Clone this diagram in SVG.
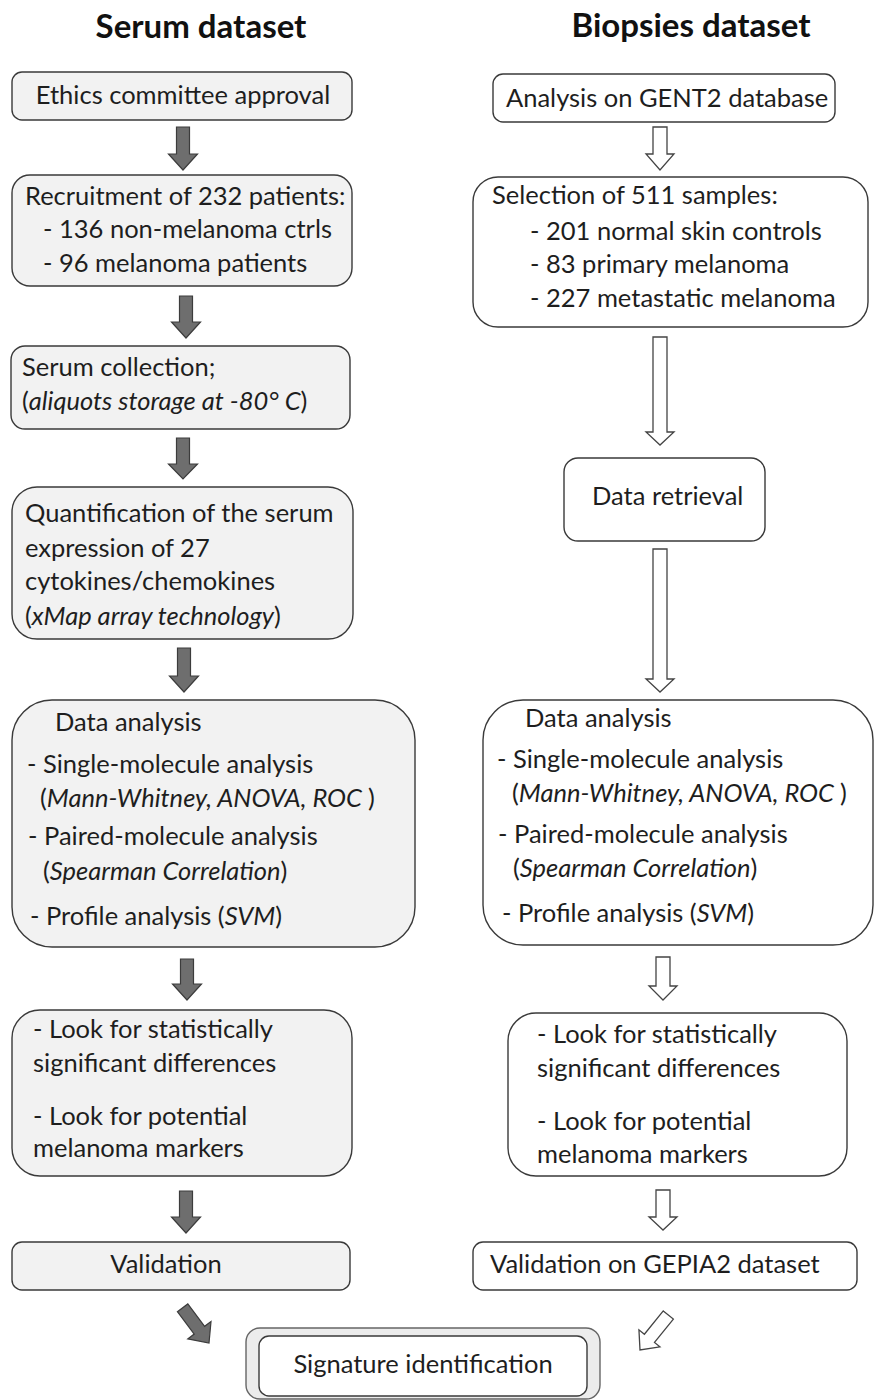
<svg xmlns="http://www.w3.org/2000/svg" width="875" height="1400" viewBox="0 0 875 1400">
<style>
text{font-family:Lato,"Open Sans","Liberation Sans",sans-serif;font-size:25.5px;fill:#1e1e1e}
.title{font-weight:bold;font-size:33px;fill:#111;text-anchor:middle}
.mid{text-anchor:middle}
.i{font-style:italic}
.g{fill:#f2f2f2;stroke:#3a3a3a;stroke-width:1.4}
.w{fill:#ffffff;stroke:#3a3a3a;stroke-width:1.4}
.fa{fill:#6e6e6e;stroke:#3c3c3c;stroke-width:1.2}
.ha{fill:#ffffff;stroke:#444;stroke-width:1.3}
</style>
<rect width="875" height="1400" fill="#ffffff"/>
<text class="title" x="201" y="38">Serum dataset</text>
<text class="title" x="691" y="37">Biopsies dataset</text>

<g id="connectors">
<polygon class="fa" points="176.5,127 189.5,127 189.5,154 197.5,154 183,170 168.5,154 176.5,154"/>
<polygon class="fa" points="179.5,296 192.5,296 192.5,322 200.5,322 186,338 171.5,322 179.5,322"/>
<polygon class="fa" points="176.5,438 189.5,438 189.5,464 197.5,464 183,479 168.5,464 176.5,464"/>
<polygon class="fa" points="177.5,648 190.5,648 190.5,676 198.5,676 184,692 169.5,676 177.5,676"/>
<polygon class="fa" points="180.5,959 193.5,959 193.5,984 201.5,984 187,1000 172.5,984 180.5,984"/>
<polygon class="fa" points="179.5,1191 192.5,1191 192.5,1217 200.5,1217 186,1233 171.5,1217 179.5,1217"/>
<polygon class="fa" transform="translate(209,1343) rotate(-36.87)" points="-6.5,-44 6.5,-44 6.5,-16 14.5,-16 0,0 -14.5,-16 -6.5,-16"/>

<polygon class="ha" points="653,127 667,127 667,154 674,154 660,170 646,154 653,154"/>
<polygon class="ha" points="653,337 667,337 667,432 674,432 660,445 646,432 653,432"/>
<polygon class="ha" points="653,549 667,549 667,679 674,679 660,692 646,679 653,679"/>
<polygon class="ha" points="656,957 670,957 670,986 677,986 663,1000 649,986 656,986"/>
<polygon class="ha" points="656,1190 670,1190 670,1217 677,1217 663,1230 649,1217 656,1217"/>
<polygon class="ha" transform="translate(640,1350) rotate(39)" points="-6.5,-45 6.5,-45 6.5,-15 13.5,-15 0,0 -13.5,-15 -6.5,-15"/>
</g>

<g id="ethics">
<rect class="g" x="12" y="72" width="340" height="48" rx="10"/>
<text class="mid" x="183" y="104">Ethics committee approval</text>
</g>
<g id="recruitment">
<rect class="g" x="12" y="175" width="340" height="111" rx="18"/>
<text x="25" y="205">Recruitment of 232 patients:</text>
<text x="43" y="238">- 136 non-melanoma ctrls</text>
<text x="43" y="272">- 96 melanoma patients</text>
</g>
<g id="serum">
<rect class="g" x="11" y="346" width="339" height="83" rx="14"/>
<text x="22" y="376">Serum collection;</text>
<text x="22" y="410">(<tspan class="i">aliquots storage at -80° C</tspan>)</text>
</g>
<g id="quant">
<rect class="g" x="12" y="487" width="341" height="152" rx="25"/>
<text x="25" y="522">Quantification of the serum</text>
<text x="25" y="557">expression of 27</text>
<text x="25" y="590">cytokines/chemokines</text>
<text x="25" y="625">(<tspan class="i">xMap array technology</tspan>)</text>
</g>
<g id="analysis-left">
<rect class="g" x="12" y="700" width="403" height="247" rx="40"/>
<text x="55" y="731">Data analysis</text>
<text x="27" y="773">- Single-molecule analysis</text>
<text x="40" y="807">(<tspan class="i">Mann-Whitney, ANOVA, ROC </tspan>)</text>
<text x="28" y="845">- Paired-molecule analysis</text>
<text x="43" y="880">(<tspan class="i">Spearman Correlation</tspan>)</text>
<text x="30" y="925">- Profile analysis (<tspan class="i">SVM</tspan>)</text>
</g>
<g id="look-left">
<rect class="g" x="12" y="1010" width="340" height="166" rx="28"/>
<text x="33" y="1038">- Look for statistically</text>
<text x="33" y="1072">significant differences</text>
<text x="33" y="1125">- Look for potential</text>
<text x="33" y="1157">melanoma markers</text>
</g>
<g id="validation-left">
<rect class="g" x="12" y="1242" width="338" height="48" rx="10"/>
<text class="mid" x="166" y="1273">Validation</text>
</g>

<g id="gent2">
<rect class="w" x="493" y="74" width="342" height="48" rx="10"/>
<text x="506" y="107">Analysis on GENT2 database</text>
</g>
<g id="selection">
<rect class="w" x="473" y="177" width="395" height="150" rx="25"/>
<text x="492" y="204">Selection of 511 samples:</text>
<text x="530" y="240">- 201 normal skin controls</text>
<text x="530" y="273">- 83 primary melanoma</text>
<text x="530" y="307">- 227 metastatic melanoma</text>
</g>
<g id="retrieval">
<rect class="w" x="564" y="458" width="201" height="83" rx="14"/>
<text x="592" y="505">Data retrieval</text>
</g>
<g id="analysis-right">
<rect class="w" x="483" y="700" width="390" height="245" rx="40"/>
<text x="525" y="727">Data analysis</text>
<text x="497" y="768">- Single-molecule analysis</text>
<text x="512" y="802">(<tspan class="i">Mann-Whitney, ANOVA, ROC </tspan>)</text>
<text x="498" y="843">- Paired-molecule analysis</text>
<text x="513" y="877">(<tspan class="i">Spearman Correlation</tspan>)</text>
<text x="502" y="922">- Profile analysis (<tspan class="i">SVM</tspan>)</text>
</g>
<g id="look-right">
<rect class="w" x="508" y="1013" width="339" height="163" rx="28"/>
<text x="537" y="1043">- Look for statistically</text>
<text x="537" y="1077">significant differences</text>
<text x="537" y="1130">- Look for potential</text>
<text x="537" y="1163">melanoma markers</text>
</g>
<g id="validation-right">
<rect class="w" x="473" y="1242" width="384" height="48" rx="10"/>
<text x="490" y="1273">Validation on GEPIA2 dataset</text>
</g>

<g id="signature">
<rect x="246" y="1328" width="354" height="71" rx="14" fill="#ececec" stroke="#666" stroke-width="1.4"/>
<rect class="w" x="259" y="1336" width="328" height="60" rx="10"/>
<text class="mid" x="423" y="1373">Signature identification</text>
</g>
</svg>
